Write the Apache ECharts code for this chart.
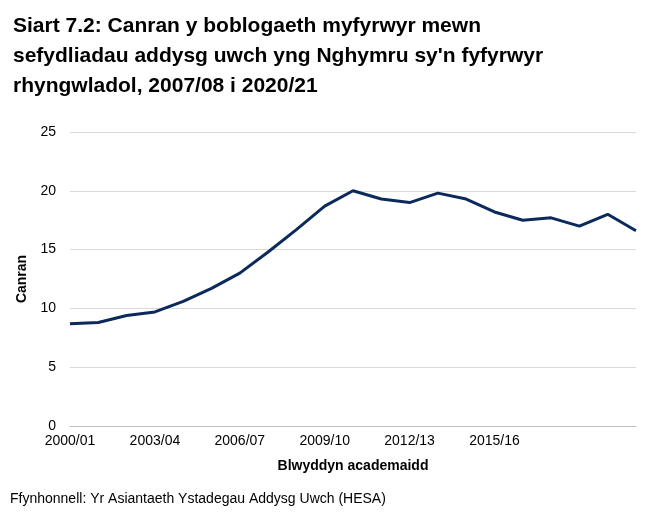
<!DOCTYPE html>
<html>
<head>
<meta charset="utf-8">
<script src="https://cdn.jsdelivr.net/npm/echarts@6/dist/echarts.min.js"></script>
<style>body{margin:0;background:#fff}#main{width:656px;height:527px}</style>
</head>
<body>
<div id="main"></div>
<script>
var years = ['2000/01','2001/02','2002/03','2003/04','2004/05','2005/06','2006/07','2007/08','2008/09','2009/10','2010/11','2011/12','2012/13','2013/14','2014/15','2015/16','2016/17','2017/18','2018/19','2019/20','2020/21'];
var canran = [8.7,8.8,9.4,9.7,10.6,11.7,13.0,14.8,16.7,18.7,20.0,19.3,19.0,19.8,19.3,18.2,17.5,17.7,17.0,18.0,16.6];

var myChart = echarts.init(document.getElementById('main'));
myChart.setOption({
    animation: false,
    title: {
        text: "Siart 7.2: Canran y boblogaeth myfyrwyr mewn\nsefydliadau addysg uwch yng Nghymru sy'n fyfyrwyr\nrhyngwladol, 2007/08 i 2020/21",
        left: 8, top: 6,
        textStyle: { fontFamily: 'Liberation Sans', fontSize: 21, fontWeight: 'bold', color: '#000', lineHeight: 30 }
    },
    graphic: [{
        type: 'text', left: 10, top: 492,
        style: { text: 'Ffynhonnell: Yr Asiantaeth Ystadegau Addysg Uwch (HESA)', font: '14px "Liberation Sans"', fill: '#000' }
    }],
    grid: { left: 70, right: 20, top: 132, bottom: 101 },
    xAxis: {
        type: 'category', data: years, boundaryGap: false,
        name: 'Blwyddyn academaidd', nameLocation: 'middle', nameGap: 33,
        nameTextStyle: { fontFamily: 'Liberation Sans', fontSize: 14, fontWeight: 'bold', color: '#000' },
        axisLine: { lineStyle: { color: '#bfbfbf' } },
        axisTick: { show: false },
        axisLabel: {
            interval: function (i) { return i % 3 === 0 && i < 20; },
            hideOverlap: false, showMaxLabel: false,
            fontFamily: 'Liberation Sans', fontSize: 14, color: '#000'
        }
    },
    yAxis: {
        type: 'value', min: 0, max: 25, interval: 5,
        name: 'Canran', nameLocation: 'middle', nameGap: 40,
        nameTextStyle: { fontFamily: 'Liberation Sans', fontSize: 14, fontWeight: 'bold', color: '#000' },
        axisLabel: { fontFamily: 'Liberation Sans', fontSize: 14, color: '#000', margin: 14 },
        splitLine: { lineStyle: { color: '#d9d9d9' } }
    },
    series: [{
        type: 'line', data: canran, symbol: 'none',
        lineStyle: { color: '#0b2a5b', width: 3 }
    }]
});
</script>
</body>
</html>
